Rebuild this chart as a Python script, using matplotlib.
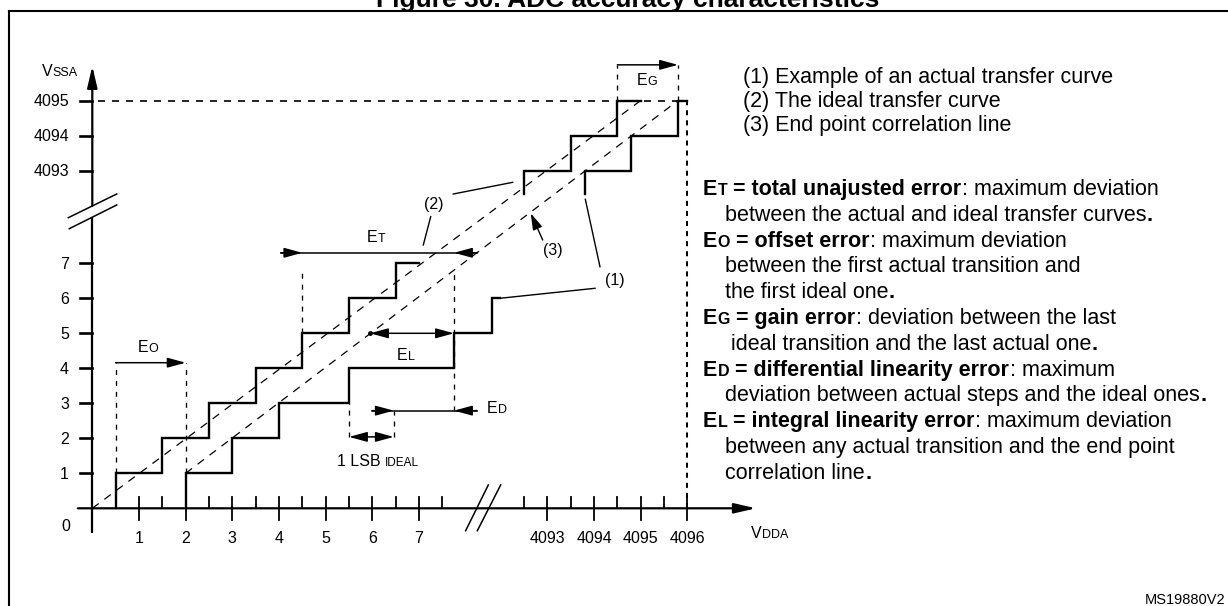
import numpy as np
import matplotlib
matplotlib.use("Agg")
import matplotlib.pyplot as plt
from matplotlib.lines import Line2D
from matplotlib.transforms import IdentityTransform

plt.rcParams['font.family'] = ['Liberation Sans', 'DejaVu Sans']

W, H = 1228, 606

# ---------------- data (ADC codes) ----------------
x_major_lo = [1, 2, 3, 4, 5, 6, 7]
x_major_hi = [4093, 4094, 4095, 4096]
x_minor = [1.5, 2.5, 3.5, 4.5, 5.5, 6.5, 7.5, 4092.5, 4093.5, 4094.5, 4095.5]
y_ticks = [1, 2, 3, 4, 5, 6, 7, 4093, 4094, 4095]

# (2) ideal transfer curve
ideal_lo_risers = [0.5, 1.5, 2.5, 3.5, 4.5, 5.5, 6.5]
ideal_lo_levels = [1, 2, 3, 4, 5, 6, 7]
ideal_lo_end = 7.0
ideal_hi_risers = [4092.5, 4093.5, 4094.5]
ideal_hi_levels = [4093, 4094, 4095]
ideal_hi_end = 4095.0
hi_cut = 4092.33

# (1) example of an actual transfer curve
actual_lo_risers = [2, 3, 4, 5.5, 7.75, 8.56]
actual_lo_levels = [1, 2, 3, 4, 5, 6]
actual_lo_end = 8.73
actual_hi_risers = [4093.8, 4094.8, 4095.8]
actual_hi_levels = [4093, 4094, 4095]
actual_hi_end = 4096.0

# dashed straight lines (code x, code y)
ideal_line_x, ideal_line_y = [0, 4095], [0, 4095]
endpoint_line_x, endpoint_line_y = [2, 4095.8], [1, 4095]

# annotation geometry (axis units)
et_y, et_tips, et_tails = 7.30, (4.5, 7.75), (4.04, 8.25)
eo_y, eo_x = 4.16, (0.5, 2.0)
el_y, el_x = 5.0, (5.95, 7.75)
ed_y, ed_tips, ed_tails = 2.79, (6.46, 7.75), (6.0, 8.24)
lsb_y, lsb_x = 2.04, (5.5, 6.46)
eg_y, eg_codes = 12.67, (4094.5, 4095.8)
guide_top = 6.83

X_OFF, Y_OFF = 4083.25, 4083.35
PX_X0, PX_Y0, UX, UY = 92.3, 508.3, 46.67, 35.0


def fx(v):
    v = np.asarray(v, float)
    return np.where(v > 1000, v - X_OFF, v)


def fy(v):
    v = np.asarray(v, float)
    return np.where(v > 1000, v - Y_OFF, v)


def steps(risers, levels, start, end):
    xs, ys = [], []
    for i, (r, l) in enumerate(zip(risers, levels)):
        y0 = start if i == 0 else levels[i - 1]
        xs += [r, r]
        ys += [y0, l]
    xs.append(end)
    ys.append(levels[-1])
    return fx(xs), fy(ys)


fig = plt.figure(figsize=(W / 100, H / 100), dpi=100)
ax = fig.add_axes([0, 0, 1, 1])
ax.set_xlim(-PX_X0 / UX, (W - PX_X0) / UX)
ax.set_ylim((PX_Y0 - H) / UY, PX_Y0 / UY)
ax.axis('off')

K = 'black'
LW_AX = 1.6
AHEAD = dict(mutation_scale=10, shrinkA=0, shrinkB=0, color=K)


def arrow(x0, y0, x1, y1, style='-|>', lw=1.1, hl=1.1, hw=0.3):
    ax.annotate('', xy=(x1, y1), xytext=(x0, y0),
                arrowprops=dict(arrowstyle=f'{style},head_length={hl},head_width={hw}',
                                lw=lw, **AHEAD))


# axes
arrow(-0.31, 0, 14.22, 0, lw=LW_AX, hl=1.3, hw=0.3)
ax.plot([0, 0], [-0.71, 8.32], color=K, lw=LW_AX, solid_capstyle='butt')
arrow(0, 8.64, 0, 12.64, lw=LW_AX, hl=1.3, hw=0.3)

# ticks
tk = 0.333
for t in x_major_lo + x_major_hi:
    ax.plot([fx(t)] * 2, [-tk, tk], color=K, lw=1.3)
for t in x_minor:
    ax.plot([fx(t)] * 2, [0, tk], color=K, lw=1.3)
for t in y_ticks:
    ax.plot([-0.264, 0], [fy(t)] * 2, color=K, lw=1.9)

# break marks
ax.plot([-0.514, 0.523], [8.303, 8.98], color=K, lw=1.1)
ax.plot([-0.493, 0.523], [7.989, 8.666], color=K, lw=1.1)
ax.plot([8.0, 8.485], [-0.64, 0.666], color=K, lw=1.1)
ax.plot([8.25, 8.75], [-0.64, 0.666], color=K, lw=1.1)

# reference dashed lines at 4095 / 4096
ax.plot([0.12, fx(4096)], [fy(4095)] * 2, color=K, lw=1.2, ls=(0, (4.2, 4.2)))
ax.plot([fx(4096)] * 2, [0, fy(4095)], color=K, lw=1.45, ls=(0, (2.5, 2.5)))

# ideal line & end point correlation line
diag = dict(color=K, lw=0.9, ls=(0, (6.4, 5.6)))
ax.plot(fx(ideal_line_x), fy(ideal_line_y), **diag)
ax.plot(fx(endpoint_line_x), fy(endpoint_line_y), **diag)

# step curves
step_kw = dict(color=K, lw=1.7, solid_joinstyle='miter')
ax.plot(*steps(ideal_lo_risers, ideal_lo_levels, 0, ideal_lo_end), **step_kw)
ax.plot(*steps(ideal_hi_risers, ideal_hi_levels, hi_cut, ideal_hi_end), **step_kw)
ax.plot(*steps(actual_lo_risers, actual_lo_levels, 0, actual_lo_end), **step_kw)
ax.plot(*steps(actual_hi_risers, actual_hi_levels, hi_cut, actual_hi_end), **step_kw)

# guide dashes
guide = dict(color=K, lw=0.95, ls=(0, (3.8, 4.5)))
ax.plot([et_tips[0]] * 2, [5, guide_top], **guide)
ax.plot([et_tips[1]] * 2, [ed_y, guide_top], **guide)
ax.plot([eo_x[0]] * 2, [1, eo_y], **guide)
ax.plot([eo_x[1]] * 2, [1, eo_y], **guide)
ax.plot([lsb_x[0]] * 2, [lsb_y, 3], **guide)
ax.plot([lsb_x[1]] * 2, [lsb_y, ed_y], **guide)
ax.plot([fx(eg_codes[0])] * 2, [fy(4095), eg_y], **guide)
ax.plot([fx(eg_codes[1])] * 2, [fy(4095), eg_y], **guide)

# error arrows
ax.plot(et_tails, [et_y] * 2, color=K, lw=1.1)
arrow(et_tails[0], et_y, et_tips[0], et_y)
arrow(et_tails[1], et_y, et_tips[1], et_y)
arrow(eo_x[0], eo_y, eo_x[1], eo_y)
arrow(el_x[0], el_y, el_x[1], el_y, style='<|-|>')
ax.plot([el_x[0]], [el_y], 'o', color=K, ms=2.5)
ax.plot(ed_tails, [ed_y] * 2, color=K, lw=1.1)
arrow(ed_tails[0], ed_y, ed_tips[0], ed_y)
arrow(ed_tails[1], ed_y, ed_tips[1], ed_y)
arrow(lsb_x[0], lsb_y, lsb_x[1], lsb_y, style='<|-|>')
arrow(fx(eg_codes[0]), eg_y, fx(eg_codes[1]), eg_y)

# leaders for (1) (2) (3)
lead = dict(color=K, lw=1.0)
ax.plot([7.735, 9.008], [8.98, 9.314], **lead)
ax.plot([7.251, 7.092], [8.331, 7.523], **lead)
ax.plot([10.564, 10.878], [8.829, 6.903], **lead)
ax.plot([actual_lo_end, 10.772], [6.0, 6.286], **lead)
arrow(9.651, 7.666, 9.394, 8.429, lw=1.0, hl=1.0, hw=0.3)

# ---------------- text ----------------
FS_T = 11.5
base = 5.7 / UY
for t in x_major_lo + x_major_hi:
    ax.text(fx(t), -0.983, str(t), fontsize=FS_T, ha='center', va='baseline')
for t in y_ticks:
    ax.text(-0.5, fy(t) - base, str(t), fontsize=FS_T, ha='right', va='baseline')
ax.text(-0.564, -0.64, '0', fontsize=FS_T, ha='center', va='baseline')

r = fig.canvas.get_renderer()


def rich(x, y, parts, ha='left'):
    """parts: (text, size, weight, gap_px); x, y in image pixels (y from top), y = baseline"""
    objs, cx = [], 0.0
    for s, size, weight, gap in parts:
        cx += gap
        t = fig.text(0, 0, s, fontsize=size, fontweight=weight, va='baseline',
                     ha='left', transform=IdentityTransform())
        w = t.get_window_extent(renderer=r).width
        objs.append((t, cx))
        cx += w
    off = {'left': 0, 'center': -cx / 2, 'right': -cx}[ha]
    for t, dx in objs:
        t.set_position((x + off + dx, H - y))


def sp(size):
    return 0.278 * size * 100 / 72


# axis names
rich(78, 76, [('V', FS_T, 'normal', 0), ('SSA', 9, 'normal', 0)], ha='right')
rich(751, 538, [('V', FS_T, 'normal', 0), ('DDA', 9, 'normal', 0)])

# error labels
for (xc, yb, sub) in [(376, 242, 'T'), (148, 352, 'O'), (406, 360, 'L'), (647, 85, 'G')]:
    rich(xc, yb, [('E', FS_T, 'normal', 0), (sub, 9, 'normal', 0.5)], ha='center')
rich(487, 413, [('E', FS_T, 'normal', 0), ('D', 9, 'normal', 0.5)])
rich(378, 466, [('1 LSB', FS_T, 'normal', 0), ('IDEAL', 8.5, 'normal', sp(FS_T))], ha='center')

for (xc, yb, s) in [(615, 284.5, '(1)'), (434, 209.5, '(2)'), (553, 255, '(3)')]:
    rich(xc, yb, [(s, FS_T, 'normal', 0)], ha='center')

# right-hand legend text
FS = 15.5
FSS = 11.5
for yb, s in [(83, '(1) Example of an actual transfer curve'),
              (107, '(2) The ideal transfer curve'),
              (131, '(3) End point correlation line')]:
    rich(743, yb, [(s, FS, 'normal', 0)])

defs = [
    ('T', 'total unajusted error', ': maximum deviation',
     [(725, 'between the actual and ideal transfer curves')]),
    ('O', 'offset error', ': maximum deviation',
     [(725, 'between the first actual transition and'), (725, 'the first ideal one')]),
    ('G', 'gain error', ': deviation between the last',
     [(731, 'ideal transition and the last actual one')]),
    ('D', 'differential linearity error', ': maximum',
     [(725, 'deviation between actual steps and the ideal ones')]),
    ('L', 'integral linearity error', ': maximum deviation',
     [(725, 'between any actual transition and the end point'), (725, 'correlation line')]),
]
yb = 195
step = 25.8
for sub, bold, rest, conts in defs:
    rich(703, yb, [('E', FS, 'bold', 0), (sub, FSS, 'bold', 0.5),
                   ('= ' + bold, FS, 'bold', sp(FS)), (rest, FS, 'normal', 0.5)])
    yb += step
    for i, (xc, s) in enumerate(conts):
        parts = [(s, FS, 'normal', 0)]
        if i == len(conts) - 1:
            parts.append(('.', FS, 'bold', 0.5))
        elif s.endswith('and'):
            pass
        rich(xc, yb, parts)
        yb += step

rich(1225, 604, [('MS19880V2', 10.5, 'normal', 0)], ha='right')

# title (cut off at the top edge) and frame
fig.text(628 / W, 1 - 6.5 / H, 'Figure 30. ADC accuracy characteristics',
         fontsize=19, fontweight='bold', ha='center', va='baseline')
fig.add_artist(Line2D([9 / W, 1], [1 - 11 / H] * 2, transform=fig.transFigure, color=K, lw=1.5))
fig.add_artist(Line2D([9 / W] * 2, [0, 1 - 11 / H], transform=fig.transFigure, color=K, lw=1.5))

fig.savefig('out.png', dpi=100)
